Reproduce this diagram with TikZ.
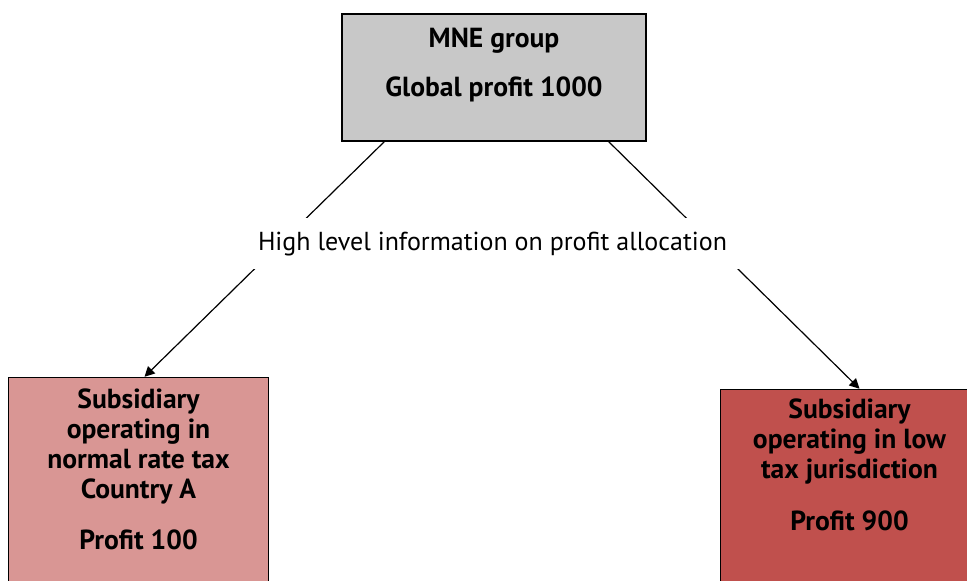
\documentclass[tikz,border=0pt]{standalone}
\usepackage{fontspec}
\setmainfont{PT Sans}
\usetikzlibrary{arrows.meta, positioning}

\definecolor{mnegray}{RGB}{200,200,200}
\definecolor{normalred}{RGB}{217,150,148}
\definecolor{lowred}{RGB}{192,80,77}

% box text, set from the top: height, width, top gap, lines
\newcommand{\boxlines}[4]{\parbox[c][#1][t]{#2}{\centering\vspace*{#3}#4}}

\begin{document}
\begin{tikzpicture}[
    node distance=10mm,
    box/.style={rectangle, draw=black, line width=0.75pt, inner sep=0pt, font=\bfseries\fontsize{13.8}{15}\selectfont},
    arrow/.style={-{Triangle[length=5pt, width=5pt]}, line width=0.6pt},
    info/.style={fill=white, inner xsep=7pt, inner ysep=0pt, minimum height=25.5pt, font=\fontsize{13}{15}\selectfont}
  ]
  \useasboundingbox (0,0) rectangle (483.5pt,-290.5pt);

  % ============ GROUP ============
  \node[box, fill=mnegray] (mne) at (247pt,-38.75pt) {\boxlines{63.5pt}{152pt}{6.8pt}{MNE group\\[9.5pt]Global profit 1000}};

  % ============ SUBSIDIARIES ============
  \node[box, fill=normalred, below left=117.5pt and 36pt of mne] (subA) {\boxlines{102pt}{130pt}{5.8pt}{Subsidiary\\operating in\\normal rate tax\\Country A\\[10.5pt]Profit 100}};
  \node[box, fill=lowred, below right=123.5pt and 36.5pt of mne] (subB) {\boxlines{102pt}{129pt}{4.8pt}{Subsidiary\\operating in low\\tax jurisdiction\\[11pt]Profit 900}};

  % ============ ALLOCATION ============
  \draw[arrow] ([xshift=21.5pt]mne.south west) -- ([xshift=3pt]subA.north);
  \draw[arrow] ([xshift=-19pt]mne.south east) -- ([xshift=5pt]subB.north);
  \node[info, below=38pt of mne, xshift=-0.75pt] (alloc) {High level information on profit allocation};

\end{tikzpicture}
\end{document}
